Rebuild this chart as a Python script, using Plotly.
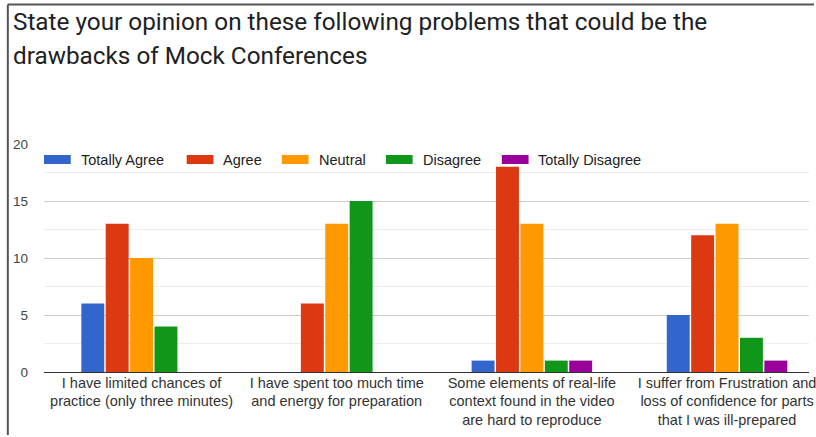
import plotly.graph_objects as go

categories = [
    "I have limited chances of<br>practice (only three minutes)",
    "I have spent too much time<br>and energy for preparation",
    "Some elements of real-life<br>context found in the video<br>are hard to reproduce",
    "I suffer from Frustration and<br>loss of confidence for parts<br>that I was ill-prepared",
]
series_names = ["Totally Agree", "Agree", "Neutral", "Disagree", "Totally Disagree"]
totally_agree = [6, 0, 1, 5]
agree = [13, 6, 18, 12]
neutral = [10, 13, 13, 13]
disagree = [4, 15, 1, 3]
totally_disagree = [0, 0, 1, 1]
colors = ["#3366cc", "#dc3912", "#ff9900", "#109618", "#990099"]
y_ticks = [0, 5, 10, 15, 20]

W, H = 816, 437
L, R, T, B = 44, 0, 144, 65
PW = W - L - R
PH = H - T - B

def px(x):
    return (x - L) / PW

def py(y):
    return (H - B - y) / PH

fig = go.Figure()
all_vals = [totally_agree, agree, neutral, disagree, totally_disagree]
for name, vals, c in zip(series_names, all_vals, colors):
    fig.add_trace(go.Bar(x=list(range(len(categories))), y=vals, name=name,
                         marker=dict(color=c, line=dict(width=0)), showlegend=False))

fig.update_layout(
    width=W, height=H,
    margin=dict(l=L, r=R, t=T, b=B),
    paper_bgcolor="white", plot_bgcolor="white",
    barmode="group", bargap=0.375, bargroupgap=0.06,
    font=dict(family="Liberation Sans, Arial, sans-serif", size=13, color="#444"),
    xaxis=dict(
        range=[-0.5, 3.42], tickmode="array",
        tickvals=list(range(len(categories))), ticktext=categories,
        showgrid=False, zeroline=False, showline=False, ticks="",
        tickfont=dict(size=14.5, color="#333"), ticklabeloverflow="allow",
    ),
    yaxis=dict(
        range=[0, 20], tickvals=y_ticks, showgrid=True, gridcolor="#cccccc",
        gridwidth=1, zeroline=True, zerolinecolor="#333333", zerolinewidth=1,
        showline=False, ticks="", ticklabelstandoff=15,
        tickfont=dict(size=13.5, color="#444"),
        minor=dict(dtick=2.5, showgrid=True, gridcolor="#ececec", gridwidth=1),
    ),
)

# Title (two lines)
title_lines = ["State your opinion on these following problems that could be the",
               "drawbacks of Mock Conferences"]
for i, line in enumerate(title_lines):
    fig.add_annotation(text=line, xref="paper", yref="paper",
                       x=px(11), y=py(21 + i * 34), xanchor="left", yanchor="middle",
                       showarrow=False,
                       font=dict(family="Roboto, sans-serif", size=24.3, color="#202124"))

# Legend drawn manually
legend_x = [44, 188, 284, 389, 506]
for name, c, lx in zip(series_names, colors, legend_x):
    fig.add_shape(type="rect", xref="paper", yref="paper",
                  x0=px(lx), x1=px(lx + 27), y0=py(164), y1=py(155),
                  fillcolor=c, line=dict(width=0))
    fig.add_annotation(text=name, xref="paper", yref="paper",
                       x=px(lx + 35), y=py(159.5), xanchor="left", yanchor="middle",
                       showarrow=False, font=dict(size=14.5, color="#222"))

# Frame lines (top and left)
fig.add_shape(type="line", xref="paper", yref="paper",
              x0=px(7.5), x1=px(W + 5), y0=py(4.5), y1=py(4.5),
              line=dict(color="#555555", width=2))
fig.add_shape(type="line", xref="paper", yref="paper",
              x0=px(7.5), x1=px(7.5), y0=py(4.5), y1=py(435),
              line=dict(color="#555555", width=2))

fig.write_html("out.html")
